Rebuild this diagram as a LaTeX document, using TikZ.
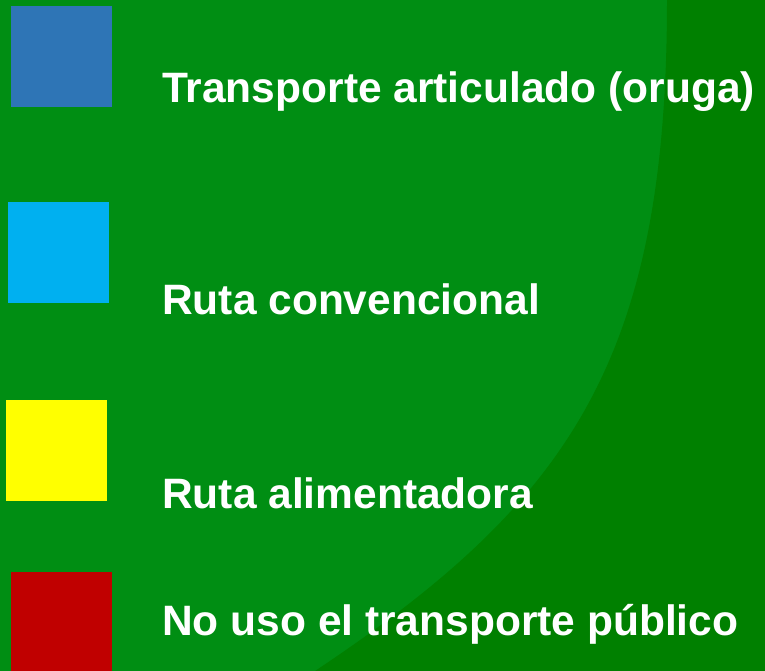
\documentclass[tikz,border=0pt]{standalone}
\usepackage{fontspec}
\setmainfont{Liberation Sans}
\definecolor{bglight}{RGB}{0,142,19}
\definecolor{bgdark}{RGB}{0,128,0}
\definecolor{cblue}{RGB}{46,117,182}
\definecolor{ccyan}{RGB}{0,176,240}
\definecolor{cyellow}{RGB}{255,255,0}
\definecolor{cred}{RGB}{192,0,0}
\tikzset{
  swatch/.style={draw=none, inner sep=0pt, minimum width=101pt, minimum height=101pt, anchor=north west},
  label/.style={text=white, font=\bfseries\fontsize{42.5}{50}\selectfont, inner sep=0pt, anchor=base west}
}
\begin{document}
\begin{tikzpicture}[x=1pt,y=-1pt]
\useasboundingbox (0,0) rectangle (765,671);
\begin{scope}
\clip (0,0) rectangle (765,671);
\fill[bglight] (0,0) rectangle (765,671);
\fill[bgdark] (667,-5) -- (667,0) .. controls (667,360) and (570,501) .. (315,671) -- (298.5,682) -- (775,682) -- (775,-5) -- cycle;
\end{scope}
\node[swatch, fill=cblue] (s1) at (11,6) {};
\node[swatch, fill=ccyan] (s2) at (8,202) {};
\node[swatch, fill=cyellow] (s3) at (6,400) {};
\node[swatch, fill=cred, minimum height=99pt] (s4) at (11,572) {};
\node[label] (t1) at (162,102.5) {Transporte articulado (oruga)};
\node[label] (t2) at (162,314.5) {Ruta convencional};
\node[label] (t3) at (162,508) {Ruta alimentadora};
\node[label] (t4) at (162,635) {No uso el transporte público};
\end{tikzpicture}
\end{document}
